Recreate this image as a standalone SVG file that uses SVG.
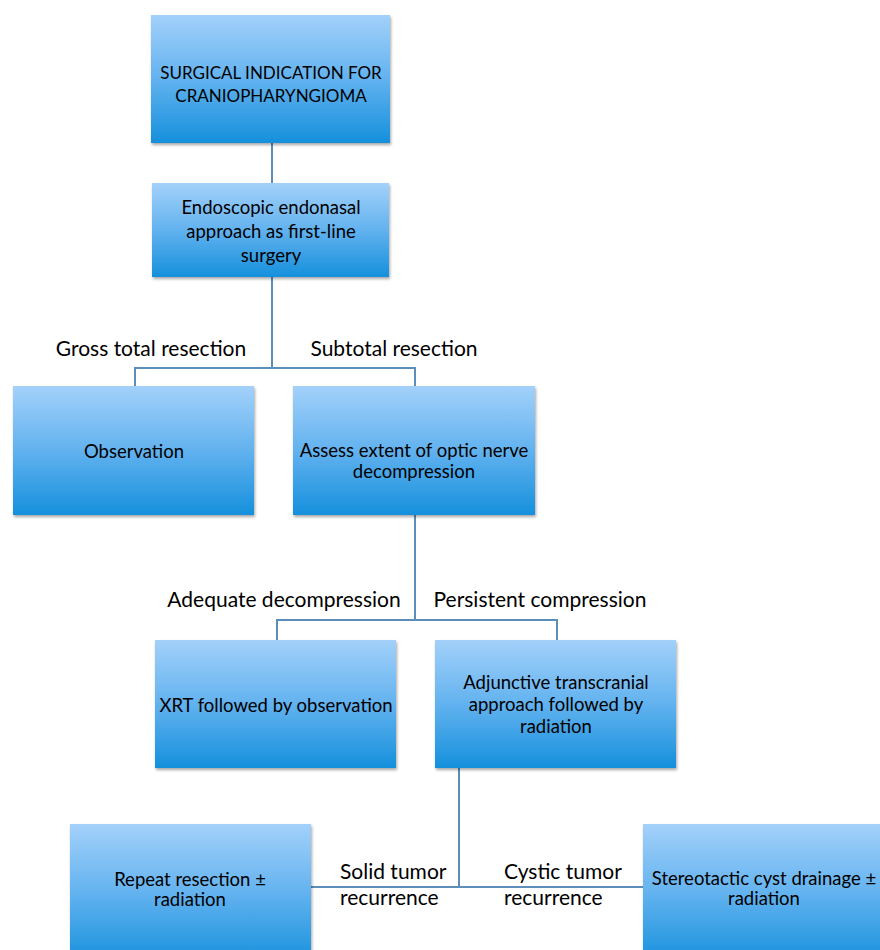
<svg xmlns="http://www.w3.org/2000/svg" width="880" height="950" viewBox="0 0 880 950">
<defs>
<linearGradient id="g" x1="0" y1="0" x2="0" y2="1">
<stop offset="0" stop-color="#a3d1fa"/>
<stop offset="0.5" stop-color="#62b2ef"/>
<stop offset="1" stop-color="#1590dc"/>
</linearGradient>
<filter id="sh" x="-5%" y="-5%" width="115%" height="115%">
<feDropShadow dx="1" dy="2" stdDeviation="1.5" flood-color="#000" flood-opacity="0.35"/>
</filter>
</defs>
<style>
.box{fill:url(#g);filter:url(#sh)}
.t{font-family:Lato,"Open Sans",sans-serif;font-size:18.5px;fill:#000;text-anchor:middle}
.s{font-size:17px}
.l{font-family:Lato,"Open Sans",sans-serif;font-size:21px;fill:#000;text-anchor:middle}
.ls{text-anchor:start}
.c{fill:none;stroke:#5b8fb9;stroke-width:2}
</style>
<rect width="880" height="950" fill="#fff"/>
<g id="connectors">
<path class="c" d="M272 143V183"/>
<path class="c" d="M272 277V368M135 386V368H415V386"/>
<path class="c" d="M415 515V620M277 640V620H557V640"/>
<path class="c" d="M459 768V887M311 887H643"/>
</g>
<g id="n1"><rect class="box" x="151" y="15" width="239" height="128"/>
<text class="t s" x="271" y="79">SURGICAL INDICATION FOR</text><text class="t s" x="271" y="102">CRANIOPHARYNGIOMA</text></g>
<g id="n2"><rect class="box" x="152" y="183" width="237" height="94"/>
<text class="t" x="271" y="214">Endoscopic endonasal</text><text class="t" x="271" y="238">approach as first-line</text><text class="t" x="271" y="262">surgery</text></g>
<g id="lab1"><text class="l" x="151" y="356">Gross total resection</text><text class="l" x="394" y="356">Subtotal resection</text></g>
<g id="n3"><rect class="box" x="13" y="386" width="241" height="129"/>
<text class="t" x="134" y="458">Observation</text></g>
<g id="n4"><rect class="box" x="293" y="386" width="242" height="129"/>
<text class="t" x="414" y="457">Assess extent of optic nerve</text><text class="t" x="414" y="478">decompression</text></g>
<g id="lab2"><text class="l" x="284" y="607">Adequate decompression</text><text class="l" x="540" y="607">Persistent compression</text></g>
<g id="n5"><rect class="box" x="155" y="640" width="241" height="128"/>
<text class="t" x="276" y="712">XRT followed by observation</text></g>
<g id="n6"><rect class="box" x="435" y="640" width="241" height="128"/>
<text class="t" x="556" y="689">Adjunctive transcranial</text><text class="t" x="556" y="711">approach followed by</text><text class="t" x="556" y="733">radiation</text></g>
<g id="lab3"><text class="l ls" x="340" y="879">Solid tumor</text><text class="l ls" x="340" y="905">recurrence</text><text class="l ls" x="504" y="879">Cystic tumor</text><text class="l ls" x="504" y="905">recurrence</text></g>
<g id="n7"><rect class="box" x="70" y="824" width="241" height="140"/>
<text class="t" x="190" y="886">Repeat resection ±</text><text class="t" x="190" y="906">radiation</text></g>
<g id="n8"><rect class="box" x="643" y="824" width="250" height="140"/>
<text class="t" x="764" y="885">Stereotactic cyst drainage ±</text><text class="t" x="764" y="905">radiation</text></g>
</svg>
